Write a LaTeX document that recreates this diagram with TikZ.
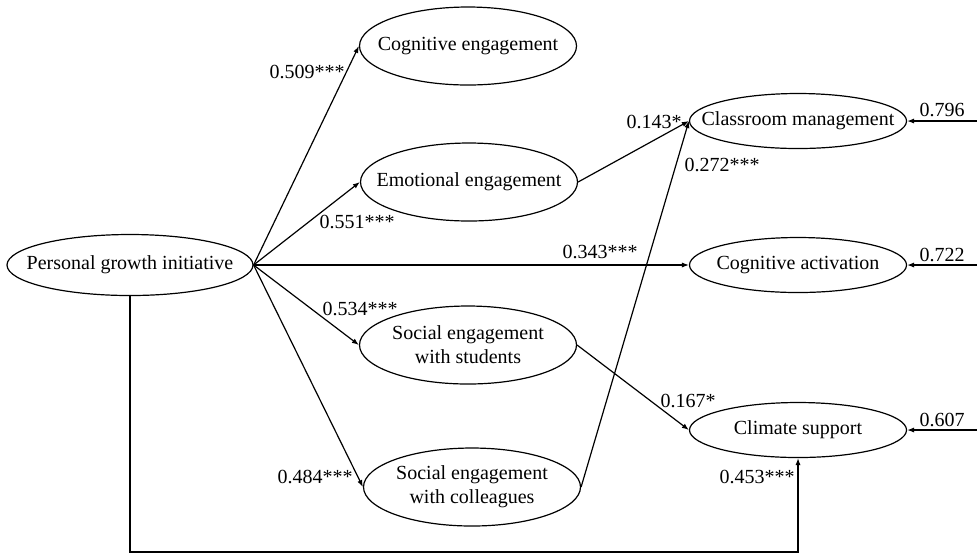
\documentclass[tikz,border=0pt]{standalone}
\usepackage{fontspec}
\setmainfont{Liberation Serif}
\usetikzlibrary{arrows.meta,shapes.geometric}

\begin{document}
\begin{tikzpicture}[
		x=0.5pt, y=-0.5pt,
		every node/.style={font=\fontsize{10}{12}\selectfont},
		latent/.style={draw, ellipse, line width=0.6pt, inner xsep=-12pt, inner ysep=0pt, align=center},
		mediator/.style={latent, minimum width=108.5pt, minimum height=39pt},
		outcome/.style={latent, minimum width=108.5pt, minimum height=27.5pt},
		coef/.style={inner sep=1pt},
		link/.style={line width=0.6pt, -{Latex[length=3.5pt, width=2.6pt]}},
	]
		\useasboundingbox (0,0) rectangle (977,554);

		\node (growth init) [latent, minimum width=123pt, minimum height=30.5pt] at (130,265) {Personal growth initiative};

		\node (cog engage) [mediator] at (468,46) {Cognitive engagement};
		\node (emo engage) [mediator] at (469,182) {Emotional engagement};
		\node (soc students) [mediator] at (468,345) {Social engagement\\with students};
		\node (soc colleagues) [mediator] at (472,487) {Social engagement\\with colleagues};

		\node (class mgmt) [outcome] at (798,121) {Classroom management};
		\node (cog activ) [outcome] at (798,265) {Cognitive activation};
		\node (climate) [outcome] at (798,430) {Climate support};

		\draw[link] (growth init.east) -- (cog engage.west);
		\draw[link] (growth init.east) -- (emo engage.west);
		\draw[link] (growth init.east) -- (cog activ.west);
		\draw[link] (growth init.east) -- (soc students.west);
		\draw[link] (growth init.east) -- (soc colleagues.west);

		\draw[link] (emo engage.east) -- (class mgmt.west);
		\draw[link] (soc colleagues.east) -- (class mgmt.west);
		\draw[link] (soc students.east) -- (climate.west);

		\coordinate (direct corner) at (798,552);
		\draw[link] (growth init.south) |- (direct corner) -- (climate.south);

		% residuals
		\coordinate (class res) at (977,121);
		\coordinate (activ res) at (977,265);
		\coordinate (climate res) at (977,430);
		\draw[link] (class res) -- (class mgmt.east);
		\draw[link] (activ res) -- (cog activ.east);
		\draw[link] (climate res) -- (climate.east);

		% path coefficients
		\node (c cog engage) [coef] at (307,72) {0.509***};
		\node (c emo engage) [coef] at (357,222) {0.551***};
		\node (c cog activ) [coef] at (600,252) {0.343***};
		\node (c soc students) [coef] at (360,309) {0.534***};
		\node (c soc colleagues) [coef] at (315,477) {0.484***};
		\node (c emo class) [coef] at (654,122) {0.143*};
		\node (c col class) [coef] at (722,165) {0.272***};
		\node (c stu climate) [coef] at (688,401) {0.167*};
		\node (c direct) [coef] at (757,477) {0.453***};
		\node (r class) [coef] at (942,110) {0.796};
		\node (r activ) [coef] at (942,255) {0.722};
		\node (r climate) [coef] at (942,420) {0.607};
	\end{tikzpicture}
\end{document}
